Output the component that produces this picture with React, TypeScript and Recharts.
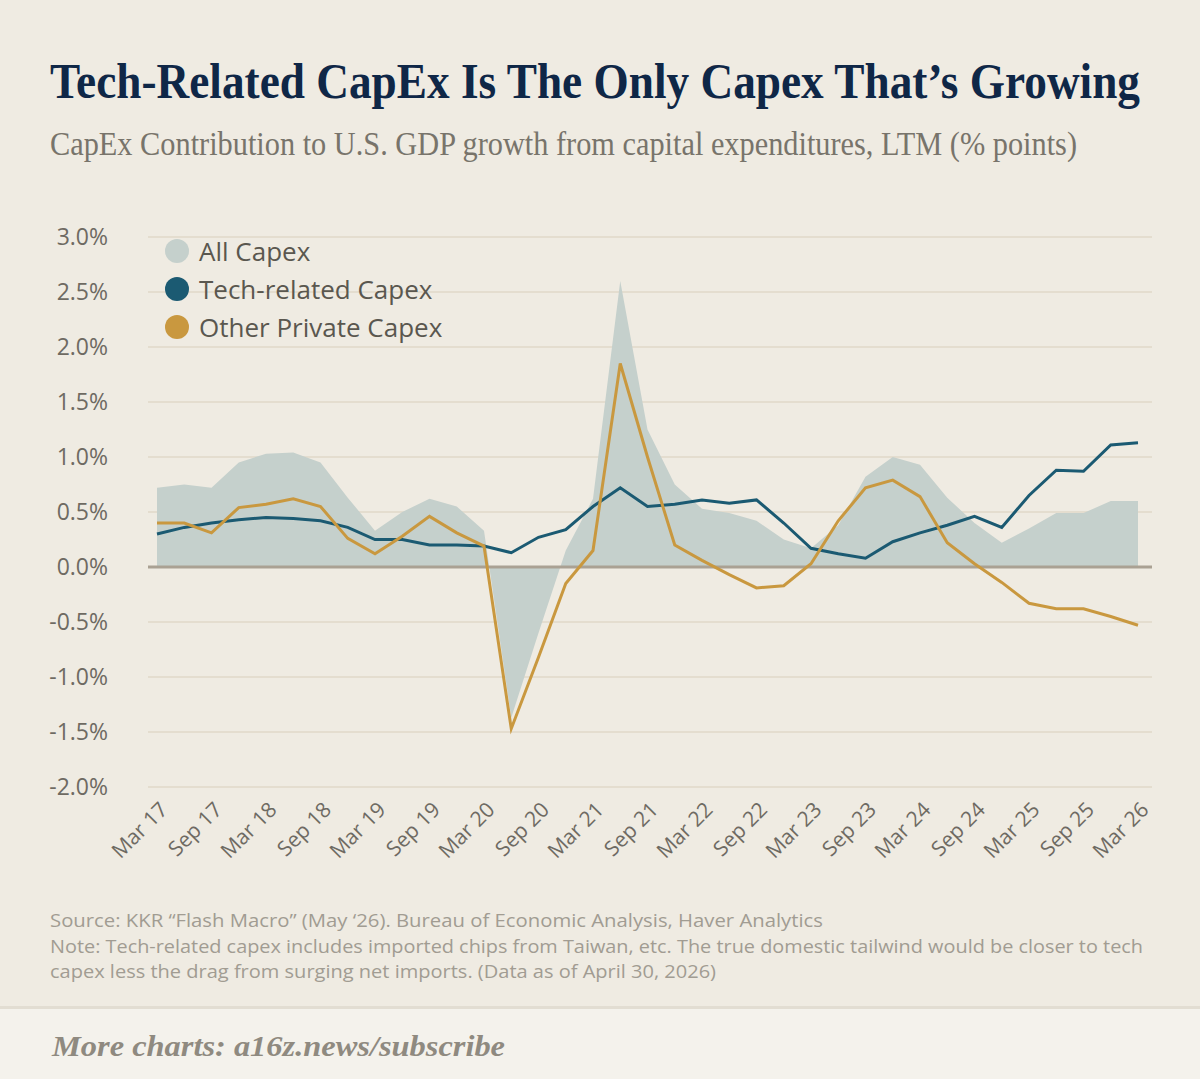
import {
  ComposedChart,
  Area,
  Line,
  XAxis,
  YAxis,
  CartesianGrid,
  ReferenceLine,
} from "recharts";

// quarterly, LTM contribution to GDP growth (% points)
const quarters = [
  "Mar 17", "Jun 17", "Sep 17", "Dec 17",
  "Mar 18", "Jun 18", "Sep 18", "Dec 18",
  "Mar 19", "Jun 19", "Sep 19", "Dec 19",
  "Mar 20", "Jun 20", "Sep 20", "Dec 20",
  "Mar 21", "Jun 21", "Sep 21", "Dec 21",
  "Mar 22", "Jun 22", "Sep 22", "Dec 22",
  "Mar 23", "Jun 23", "Sep 23", "Dec 23",
  "Mar 24", "Jun 24", "Sep 24", "Dec 24",
  "Mar 25", "Jun 25", "Sep 25", "Dec 25",
  "Mar 26",
];

const allCapex = [
  0.72, 0.75, 0.72, 0.95, 1.03, 1.04, 0.95, 0.63, 0.33, 0.5, 0.62, 0.55,
  0.33, -1.37, -0.6, 0.15, 0.62, 2.6, 1.25, 0.75, 0.53, 0.49, 0.42, 0.25,
  0.17, 0.38, 0.82, 1.0, 0.93, 0.63, 0.4, 0.22, 0.35, 0.49, 0.49, 0.6, 0.6,
];

const techCapex = [
  0.3, 0.36, 0.4, 0.43, 0.45, 0.44, 0.42, 0.36, 0.25, 0.25, 0.2, 0.2,
  0.19, 0.13, 0.27, 0.34, 0.55, 0.72, 0.55, 0.57, 0.61, 0.58, 0.61, 0.4,
  0.17, 0.12, 0.08, 0.23, 0.31, 0.38, 0.46, 0.36, 0.65, 0.88, 0.87, 1.11, 1.13,
];

const otherCapex = [
  0.4, 0.4, 0.31, 0.54, 0.57, 0.62, 0.55, 0.26, 0.12, 0.28, 0.46, 0.31,
  0.19, -1.47, -0.82, -0.15, 0.15, 1.85, 1.0, 0.2, 0.06, -0.07, -0.19, -0.17,
  0.03, 0.42, 0.72, 0.79, 0.64, 0.22, 0.03, -0.14, -0.33, -0.38, -0.38, -0.45, -0.53,
];

const yTicks = [3, 2.5, 2, 1.5, 1, 0.5, 0, -0.5, -1, -1.5, -2];

const legendItems = [
  { label: "All Capex", color: "#c5d0cc" },
  { label: "Tech-related Capex", color: "#1b5a72" },
  { label: "Other Private Capex", color: "#c9983f" },
];

const data = quarters.map((q, i) => ({
  q,
  all: allCapex[i],
  tech: techCapex[i],
  other: otherCapex[i],
}));

const BG = "#efebe2";
const SANS = "'Open Sans', sans-serif";
const SERIF = "'Liberation Serif', serif";

function XTick({ x, y, payload }: any) {
  return (
    <g transform={`translate(${x + 12},${y + 24})`}>
      <text
        x={0}
        y={0}
        textAnchor="end"
        transform="rotate(-45)"
        fill="#6e6a62"
        fontFamily={SANS}
        fontSize={21}
      >
        {payload.value}
      </text>
    </g>
  );
}

export default function App() {
  return (
    <div
      style={{
        position: "absolute",
        left: 0,
        top: 0,
        width: 1200,
        height: 1079,
        background: BG,
        overflow: "hidden",
      }}
    >
      <svg
        width={1200}
        height={1079}
        style={{ position: "absolute", left: 0, top: 0 }}
      >
        <text
          x={50}
          y={98}
          textLength={1090}
          lengthAdjust="spacingAndGlyphs"
          fontFamily={SERIF}
          fontWeight={700}
          fontSize={50}
          fill="#0f2747"
        >
          Tech-Related CapEx Is The Only Capex That’s Growing
        </text>
        <text
          x={50}
          y={155}
          textLength={1027}
          lengthAdjust="spacingAndGlyphs"
          fontFamily={SERIF}
          fontSize={34}
          fill="#78746b"
        >
          CapEx Contribution to U.S. GDP growth from capital expenditures, LTM (% points)
        </text>

        <g fontFamily={SANS} fontSize={18} fill="#a19c92">
          <text x={50} y={927} textLength={773} lengthAdjust="spacingAndGlyphs">
            Source: KKR “Flash Macro” (May ‘26). Bureau of Economic Analysis, Haver Analytics
          </text>
          <text x={50} y={953} textLength={1093} lengthAdjust="spacingAndGlyphs">
            Note: Tech-related capex includes imported chips from Taiwan, etc. The true domestic tailwind would be closer to tech
          </text>
          <text x={50} y={978} textLength={666} lengthAdjust="spacingAndGlyphs">
            capex less the drag from surging net imports. (Data as of April 30, 2026)
          </text>
        </g>

        <rect x={0} y={1008} width={1200} height={71} fill="#f4f2ec" />
        <rect x={0} y={1006} width={1200} height={3} fill="#e2ddd2" />
        <text
          x={52}
          y={1056}
          textLength={453}
          lengthAdjust="spacingAndGlyphs"
          fontFamily={SERIF}
          fontStyle="italic"
          fontWeight={700}
          fontSize={29}
          fill="#8f8a80"
        >
          More charts: a16z.news/subscribe
        </text>
      </svg>

      <div style={{ position: "absolute", left: 0, top: 200 }}>
        <ComposedChart
          width={1200}
          height={687}
          data={data}
          margin={{ top: 37, right: 48, bottom: 0, left: 0 }}
        >
          <CartesianGrid
            horizontal
            vertical={false}
            stroke="#e1d9c9"
            strokeWidth={1.5}
          />
          <XAxis
            dataKey="q"
            scale="point"
            padding={{ left: 9, right: 14 }}
            interval={1}
            axisLine={false}
            tickLine={false}
            tickSize={0}
            tickMargin={0}
            height={100}
            tick={<XTick />}
          />
          <YAxis
            type="number"
            domain={[-2, 3]}
            ticks={yTicks}
            width={148}
            axisLine={false}
            tickLine={false}
            tickSize={0}
            tickMargin={40}
            tickFormatter={(v: number) => `${v.toFixed(1)}%`}
            tick={{ fill: "#6e6a62", fontFamily: SANS, fontSize: 23 }}
          />
          <Area
            type="linear"
            dataKey="all"
            baseValue={0}
            fill="#c5d0cc"
            fillOpacity={1}
            stroke="none"
            isAnimationActive={false}
          />
          <ReferenceLine y={0} stroke="#aaa193" strokeWidth={3} />
          <Line
            type="linear"
            dataKey="tech"
            stroke="#1b5a72"
            strokeWidth={3}
            dot={false}
            isAnimationActive={false}
          />
          <Line
            type="linear"
            dataKey="other"
            stroke="#c9983f"
            strokeWidth={3}
            dot={false}
            isAnimationActive={false}
          />
        </ComposedChart>
      </div>

      <div style={{ position: "absolute", left: 165, top: 232 }}>
        {legendItems.map((item) => (
          <div
            key={item.label}
            style={{
              display: "flex",
              alignItems: "center",
              height: 38,
              fontFamily: SANS,
              fontSize: 26,
              color: "#5a574f",
            }}
          >
            <span
              style={{
                width: 24,
                height: 24,
                borderRadius: 12,
                background: item.color,
                marginRight: 10,
                display: "inline-block",
              }}
            />
            {item.label}
          </div>
        ))}
      </div>
    </div>
  );
}
